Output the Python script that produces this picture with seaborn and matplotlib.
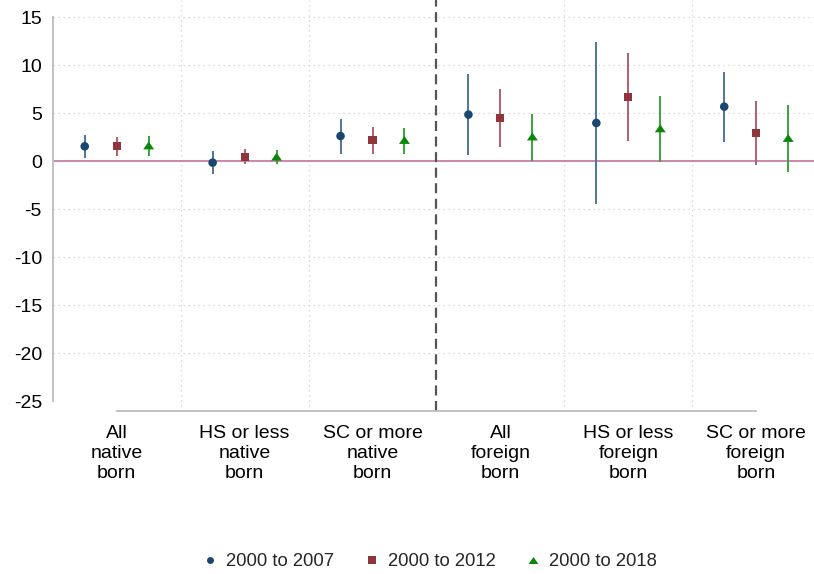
import numpy as np
import pandas as pd
import matplotlib
matplotlib.use("Agg")
import matplotlib.pyplot as plt
import seaborn as sns
from matplotlib.lines import Line2D

categories = ["All\nnative\nborn", "HS or less\nnative\nborn", "SC or more\nnative\nborn",
              "All\nforeign\nborn", "HS or less\nforeign\nborn", "SC or more\nforeign\nborn"]
series = ["2000 to 2007", "2000 to 2012", "2000 to 2018"]

est_2007 = [1.53, -0.17, 2.60, 4.83, 3.96, 5.66]
lo_2007 = [0.35, -1.35, 0.76, 0.62, -4.50, 2.00]
hi_2007 = [2.71, 1.04, 4.37, 9.03, 12.40, 9.30]

est_2012 = [1.56, 0.42, 2.19, 4.48, 6.70, 2.92]
lo_2012 = [0.55, -0.35, 0.76, 1.42, 2.12, -0.45]
hi_2012 = [2.50, 1.25, 3.58, 7.50, 11.30, 6.25]

est_2018 = [1.62, 0.45, 2.19, 2.55, 3.40, 2.40]
lo_2018 = [0.55, -0.35, 0.69, 0.00, -0.06, -1.10]
hi_2018 = [2.60, 1.15, 3.47, 4.90, 6.77, 5.80]

y_ticks = [15, 10, 5, 0, -5, -10, -15, -20, -25]

sns.set_theme(style="white")
plt.rcParams["font.family"] = ["Liberation Sans", "DejaVu Sans"]
plt.rcParams["axes.unicode_minus"] = False
fs = 14
fs_leg = 13.3

tri = [(0, 0.72), (-1, -0.72), (1, -0.72)]
colors = ["#1a476f", "#90353b", "#0a870a"]
bar_colors = ["#4d769d", "#b2606a", "#3aa33a"]
markers = ["o", "s", tri]
msizes = [38, 34, 62]
offsets = [-0.25, 0.0, 0.25]

rows = []
for s, est, lo, hi in zip(series, [est_2007, est_2012, est_2018],
                          [lo_2007, lo_2012, lo_2018], [hi_2007, hi_2012, hi_2018]):
    for i, c in enumerate(categories):
        rows.append(dict(series=s, cat=i, est=est[i], lo=lo[i], hi=hi[i]))
df = pd.DataFrame(rows)
df["x"] = df["cat"] + df["series"].map(dict(zip(series, offsets)))

fig = plt.figure(figsize=(8.14, 5.74), dpi=100)
ax = fig.add_axes([53 / 814, 1 - 411 / 574, 761 / 814, 411 / 574])

# grid
for g in [15, 10, 5, -5, -10, -15, -20]:
    ax.axhline(g, color="#d0d0d0", lw=0.9, ls=(0, (1, 3)), zorder=0)
for g in [0.5, 1.5, 3.5, 4.5]:
    ax.axvline(g, color="#d0d0d0", lw=0.9, ls=(0, (1, 3)), zorder=0)

ax.axhline(0, color="#c77fa6", lw=1.3, zorder=1)
ax.axvline(2.5, color="#555555", lw=1.6, ls=(0, (4.5, 2.5)), zorder=1)

for s, bc in zip(series, bar_colors):
    d = df[df["series"] == s]
    ax.vlines(d["x"], d["lo"], d["hi"], color=bc, lw=1.4, zorder=2)

for s, c, m, ms in zip(series, colors, markers, msizes):
    d = df[df["series"] == s]
    sns.scatterplot(data=d, x="x", y="est", color=c, marker=m, s=ms,
                    edgecolor="none", linewidth=0, ax=ax, zorder=3, legend=False)

ax.set_xlim((53 - 116.7) / 127.9, (814 - 116.7) / 127.9)
ax.set_ylim((161 - 411) / 9.6, 161 / 9.6)
ax.set_xticks(range(len(categories)))
ax.set_xticklabels(categories, fontsize=fs, linespacing=1.22)
ax.set_yticks(y_ticks)
ax.set_yticklabels([str(t) for t in y_ticks], fontsize=fs)
ax.set_xlabel("")
ax.set_ylabel("")

for side in ["top", "right"]:
    ax.spines[side].set_visible(False)
ax.spines["left"].set_bounds(-25, 15)
ax.spines["bottom"].set_bounds(0, 5)
for side in ["left", "bottom"]:
    ax.spines[side].set_color("#bdbdbd")
    ax.spines[side].set_linewidth(1.3)
ax.tick_params(axis="both", which="major", length=5, width=1.1, color="#bdbdbd",
               direction="out", labelcolor="black", pad=3)
ax.tick_params(axis="x", pad=5)

handles = [Line2D([], [], ls="none", marker=m, color=c, markersize=ms, markeredgewidth=0)
           for m, c, ms in zip(markers, colors, [5.0, 5.3, 7.0])]
fig.legend(handles, series, loc="center", bbox_to_anchor=(430 / 814, 1 - 562 / 574),
           ncol=3, frameon=False, fontsize=fs_leg, handletextpad=0.45, columnspacing=1.65,
           handlelength=0.8)

fig.savefig("out.png", dpi=100)
